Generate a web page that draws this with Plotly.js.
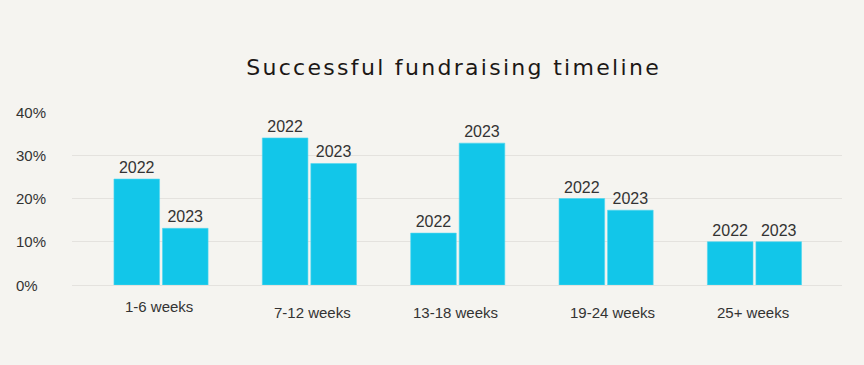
<!DOCTYPE html>
<html>
<head>
<meta charset="utf-8">
<script src="https://cdn.plot.ly/plotly-3.0.1.min.js"></script>
<style>
html,body{margin:0;padding:0;background:#f5f4f0;}
#chart{width:864px;height:365px;}
#chart .gtitle{letter-spacing:2.3px;}
</style>
</head>
<body>
<div id="chart"></div>
<script>
var categories = ["1-6 weeks", "7-12 weeks", "13-18 weeks", "19-24 weeks", "25+ weeks"];
var seriesNames = ["2022", "2023"];
var values2022 = [24.5, 34, 12, 20, 10];
var values2023 = [13.1, 28.1, 32.8, 17.3, 10];
var yTickVals = [0, 10, 20, 30, 40];
var yTickText = ["0%", "10%", "20%", "30%", "40%"];

// small per-label nudges to mimic the reference label placement
var labelXShift = [-2, 3, -2, 6, -1];
var labelYShift = [-21, -27, -27, -27, -27];

var barColor = "#12c6e9";
var textColor = "#333333";
var font = "Liberation Sans, Arial, sans-serif";

function makeTrace(name, vals) {
  return {
    type: "bar",
    name: name,
    x: categories,
    y: vals,
    text: vals.map(function(){ return name; }),
    texttemplate: "%{text}",
    textposition: "outside",
    cliponaxis: false,
    textfont: {family: font, size: 16, color: textColor},
    marker: {color: barColor, line: {color: "#4fd6f0", width: 0.6}},
    hoverinfo: "x+y"
  };
}

var data = [makeTrace(seriesNames[0], values2022), makeTrace(seriesNames[1], values2023)];

var annotations = [];
categories.forEach(function(c, i) {
  annotations.push({
    x: c, y: 0, xref: "x", yref: "y",
    text: c, showarrow: false,
    xanchor: "center", yanchor: "middle",
    xshift: labelXShift[i], yshift: labelYShift[i],
    font: {family: font, size: 15, color: textColor}
  });
});
yTickVals.forEach(function(v, i) {
  annotations.push({
    x: 0, xref: "paper", y: v, yref: "y",
    text: yTickText[i], showarrow: false,
    xanchor: "left", yanchor: "middle",
    xshift: -58, yshift: 0,
    font: {family: font, size: 15, color: textColor}
  });
});

var layout = {
  width: 864,
  height: 365,
  paper_bgcolor: "#f5f4f0",
  plot_bgcolor: "#f5f4f0",
  margin: {l: 72, r: 22, t: 112, b: 80},
  title: {
    text: "Successful fundraising timeline",
    font: {family: "DejaVu Sans, sans-serif", size: 22, color: "#1c1816"},
    x: 0.525, xanchor: "center",
    y: 0.815, yanchor: "middle"
  },
  showlegend: false,
  barmode: "group",
  bargap: 0.346,
  bargroupgap: 0.06,
  xaxis: {
    type: "category",
    range: [-0.6, 4.59],
    showticklabels: false,
    showgrid: false,
    zeroline: false,
    showline: false,
    ticks: ""
  },
  yaxis: {
    range: [0, 40],
    tickvals: yTickVals,
    showticklabels: false,
    showgrid: true,
    gridcolor: "#e4e2de",
    gridwidth: 1,
    zeroline: true,
    zerolinecolor: "#e4e2de",
    zerolinewidth: 1,
    showline: false,
    ticks: "",
    fixedrange: true
  },
  annotations: annotations
};

Plotly.newPlot("chart", data, layout, {displayModeBar: false, staticPlot: true});
</script>
</body>
</html>
